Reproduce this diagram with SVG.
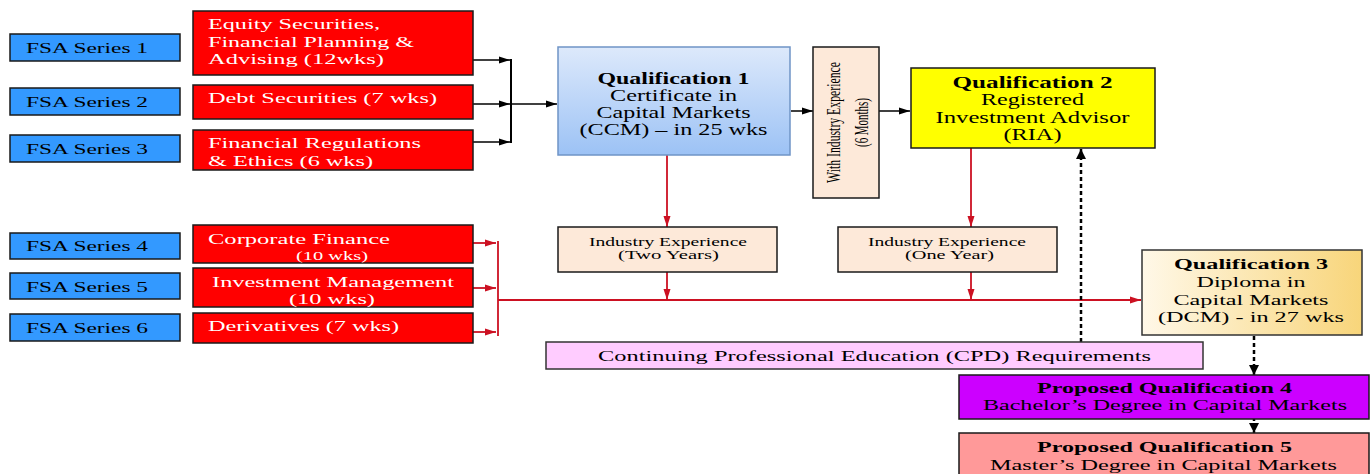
<svg xmlns="http://www.w3.org/2000/svg" width="1370" height="474" viewBox="0 0 1370 474">
<style>
text{font-family:"Liberation Serif","Times New Roman",serif;}
.fsa{fill:#3399ff;stroke:#1a1a1a;stroke-width:1.5;}
.red{fill:#ff0000;stroke:#1a1a1a;stroke-width:1.5;}
.peach{fill:#fde9d9;stroke:#1a1a1a;stroke-width:1.5;}
.tf{font-size:14px;fill:#000;}
.tr{font-size:15px;fill:#fff;}
.tq{font-size:16px;fill:#000;}
.ti{font-size:13px;fill:#000;}
.tv{font-size:19px;fill:#000;}
.b{font-weight:bold;}
.c{text-anchor:middle;}
.blk{stroke:#000;stroke-width:1.5;fill:none;}
.rl{stroke:#cc1122;stroke-width:1.8;fill:none;}
.dsh{stroke:#000;stroke-width:2.5;stroke-dasharray:4 3;fill:none;}
</style>
<defs>
<marker id="ab" markerUnits="userSpaceOnUse" markerWidth="12" markerHeight="8" refX="11" refY="4" orient="auto"><path d="M0,0.5 L11,4 L0,7.5 z" fill="#000"/></marker>
<marker id="ar" markerUnits="userSpaceOnUse" markerWidth="12" markerHeight="8" refX="11" refY="4" orient="auto"><path d="M0,0.5 L11,4 L0,7.5 z" fill="#cc1122"/></marker>
<marker id="ad" markerUnits="userSpaceOnUse" markerWidth="12" markerHeight="10" refX="10" refY="5" orient="auto"><path d="M0,0 L10,5 L0,10 z" fill="#000"/></marker>
<linearGradient id="gq1" x1="0" y1="0" x2="0" y2="1"><stop offset="0" stop-color="#dde9fb"/><stop offset="1" stop-color="#9cc2f5"/></linearGradient>
<linearGradient id="gq3" x1="0" y1="0" x2="1" y2="0"><stop offset="0" stop-color="#fff8e8"/><stop offset="1" stop-color="#f8d57a"/></linearGradient>
</defs>

<g id="connectors">
<line class="blk" x1="473" y1="60" x2="510" y2="60" marker-end="url(#ab)"/>
<line class="blk" x1="473" y1="104" x2="510" y2="104" marker-end="url(#ab)"/>
<line class="blk" x1="473" y1="142" x2="510" y2="142" marker-end="url(#ab)"/>
<line x1="511" y1="59" x2="511" y2="143" stroke="#000" stroke-width="2"/>
<line class="blk" x1="511" y1="104" x2="557" y2="104" marker-end="url(#ab)"/>
<line class="blk" x1="791" y1="111" x2="813" y2="111" marker-end="url(#ab)"/>
<line class="blk" x1="879" y1="111" x2="910" y2="111" marker-end="url(#ab)"/>

<line class="rl" x1="473" y1="243" x2="496" y2="243" marker-end="url(#ar)"/>
<line class="rl" x1="473" y1="288" x2="496" y2="288" marker-end="url(#ar)"/>
<line class="rl" x1="473" y1="332" x2="496" y2="332" marker-end="url(#ar)"/>
<line class="rl" x1="498" y1="241" x2="498" y2="336"/>
<line class="rl" x1="498" y1="300" x2="1141" y2="300" marker-end="url(#ar)"/>
<line class="rl" x1="667" y1="155" x2="667" y2="227" marker-end="url(#ar)"/>
<line class="rl" x1="971" y1="148" x2="971" y2="227" marker-end="url(#ar)"/>
<line class="rl" x1="667" y1="272" x2="667" y2="300" marker-end="url(#ar)"/>
<line class="rl" x1="971" y1="272" x2="971" y2="300" marker-end="url(#ar)"/>

<line class="dsh" x1="1081" y1="342" x2="1081" y2="149" marker-end="url(#ad)"/>
<line class="dsh" x1="1254" y1="336" x2="1254" y2="375" marker-end="url(#ad)"/>
<line class="dsh" x1="1254" y1="403" x2="1254" y2="433" marker-end="url(#ad)"/>
</g>

<g id="fsa1"><rect class="fsa" x="10" y="34" width="170" height="27"/><text class="tf" x="26" y="53" textLength="122" lengthAdjust="spacingAndGlyphs">FSA Series 1</text></g>
<g id="fsa2"><rect class="fsa" x="10" y="88" width="170" height="27"/><text class="tf" x="26" y="107" textLength="122" lengthAdjust="spacingAndGlyphs">FSA Series 2</text></g>
<g id="fsa3"><rect class="fsa" x="10" y="135" width="170" height="27"/><text class="tf" x="26" y="154" textLength="122" lengthAdjust="spacingAndGlyphs">FSA Series 3</text></g>
<g id="fsa4"><rect class="fsa" x="10" y="233" width="170" height="26"/><text class="tf" x="26" y="251" textLength="122" lengthAdjust="spacingAndGlyphs">FSA Series 4</text></g>
<g id="fsa5"><rect class="fsa" x="10" y="273" width="170" height="26"/><text class="tf" x="26" y="292" textLength="122" lengthAdjust="spacingAndGlyphs">FSA Series 5</text></g>
<g id="fsa6"><rect class="fsa" x="10" y="314" width="170" height="27"/><text class="tf" x="26" y="333" textLength="122" lengthAdjust="spacingAndGlyphs">FSA Series 6</text></g>

<g id="equity"><rect class="red" x="193" y="11" width="280" height="64"/>
<text class="tr" x="208" y="29" textLength="172" lengthAdjust="spacingAndGlyphs">Equity Securities,</text>
<text class="tr" x="208" y="47" textLength="206" lengthAdjust="spacingAndGlyphs">Financial Planning &amp;</text>
<text class="tr" x="208" y="64" textLength="176" lengthAdjust="spacingAndGlyphs">Advising (12wks)</text></g>
<g id="debt"><rect class="red" x="193" y="85" width="280" height="34"/>
<text class="tr" x="208" y="103" textLength="229" lengthAdjust="spacingAndGlyphs">Debt Securities (7 wks)</text></g>
<g id="regs"><rect class="red" x="193" y="130" width="280" height="40"/>
<text class="tr" x="208" y="148" textLength="213" lengthAdjust="spacingAndGlyphs">Financial Regulations</text>
<text class="tr" x="208" y="166" textLength="165" lengthAdjust="spacingAndGlyphs">&amp; Ethics (6 wks)</text></g>
<g id="corp"><rect class="red" x="193" y="225" width="280" height="38"/>
<text class="tr" x="208" y="244" textLength="182" lengthAdjust="spacingAndGlyphs">Corporate Finance</text>
<text class="tr c" x="332" y="260" style="font-size:13px" textLength="72" lengthAdjust="spacingAndGlyphs">(10 wks)</text></g>
<g id="invest"><rect class="red" x="193" y="268" width="280" height="39"/>
<text class="tr c" x="333" y="287" textLength="242" lengthAdjust="spacingAndGlyphs">Investment Management</text>
<text class="tr c" x="332" y="304" textLength="86" lengthAdjust="spacingAndGlyphs">(10 wks)</text></g>
<g id="deriv"><rect class="red" x="193" y="313" width="280" height="30"/>
<text class="tr" x="208" y="331" textLength="191" lengthAdjust="spacingAndGlyphs">Derivatives (7 wks)</text></g>

<g id="q1"><rect x="558" y="47" width="232" height="108" fill="url(#gq1)" stroke="#6f94c6" stroke-width="1.5"/>
<text class="tq b c" x="673.5" y="83.5" textLength="152" lengthAdjust="spacingAndGlyphs">Qualification 1</text>
<text class="tq c" x="673.5" y="100.5" textLength="127" lengthAdjust="spacingAndGlyphs">Certificate in</text>
<text class="tq c" x="673.5" y="117.5" textLength="154" lengthAdjust="spacingAndGlyphs">Capital Markets</text>
<text class="tq c" x="673.5" y="134.5" textLength="188" lengthAdjust="spacingAndGlyphs">(CCM) – in 25 wks</text></g>

<g id="withexp"><rect class="peach" x="813" y="47" width="66" height="151"/>
<text class="tv c" x="0" y="0" transform="translate(840,122.5) rotate(-90)" textLength="121" lengthAdjust="spacingAndGlyphs">With Industry Experience</text>
<text class="tv c" x="0" y="0" transform="translate(868,122.5) rotate(-90)" textLength="49" lengthAdjust="spacingAndGlyphs">(6 Months)</text></g>

<g id="q2"><rect x="911" y="68" width="244" height="80" fill="#ffff00" stroke="#1a1a1a" stroke-width="1.5"/>
<text class="tq b c" x="1032.5" y="87.5" textLength="160" lengthAdjust="spacingAndGlyphs">Qualification  2</text>
<text class="tq c" x="1032.5" y="104.5" textLength="103" lengthAdjust="spacingAndGlyphs">Registered</text>
<text class="tq c" x="1032.5" y="122.5" textLength="194" lengthAdjust="spacingAndGlyphs">Investment Advisor</text>
<text class="tq c" x="1032.5" y="139.5" textLength="58" lengthAdjust="spacingAndGlyphs">(RIA)</text></g>

<g id="ind2y"><rect class="peach" x="558" y="227" width="219" height="45"/>
<text class="ti c" x="668" y="245.5" textLength="158" lengthAdjust="spacingAndGlyphs">Industry Experience</text>
<text class="ti c" x="668.5" y="258.5" textLength="101" lengthAdjust="spacingAndGlyphs">(Two Years)</text></g>
<g id="ind1y"><rect class="peach" x="838" y="227" width="219" height="45"/>
<text class="ti c" x="947" y="245.5" textLength="158" lengthAdjust="spacingAndGlyphs">Industry Experience</text>
<text class="ti c" x="949.5" y="258.5" textLength="89" lengthAdjust="spacingAndGlyphs">(One Year)</text></g>

<g id="q3"><rect x="1142" y="250" width="220" height="85" fill="url(#gq3)" stroke="#333" stroke-width="1.5"/>
<text class="tq b c" x="1251" y="268.5" style="font-size:15px" textLength="154" lengthAdjust="spacingAndGlyphs">Qualification 3</text>
<text class="tq c" x="1251" y="286.5" style="font-size:15px" textLength="109" lengthAdjust="spacingAndGlyphs">Diploma in</text>
<text class="tq c" x="1251" y="304.5" style="font-size:15px" textLength="155" lengthAdjust="spacingAndGlyphs">Capital Markets</text>
<text class="tq c" x="1251" y="321.5" style="font-size:15px" textLength="186" lengthAdjust="spacingAndGlyphs">(DCM) - in 27 wks</text></g>

<g id="cpd"><rect x="546" y="342" width="657" height="27" fill="#ffccff" stroke="#333" stroke-width="1.5"/>
<text class="tq c" x="874.5" y="361" style="font-size:15px" textLength="553" lengthAdjust="spacingAndGlyphs">Continuing Professional Education (CPD) Requirements</text></g>

<g id="q4"><rect x="959" y="375" width="410" height="44" fill="#cc00ff" stroke="#1a1a1a" stroke-width="1.5"/>
<text class="tq b c" x="1164.5" y="393" style="font-size:15px" textLength="255" lengthAdjust="spacingAndGlyphs">Proposed Qualification 4</text>
<text class="tq c" x="1165" y="410" style="font-size:15px" textLength="364" lengthAdjust="spacingAndGlyphs">Bachelor’s Degree in Capital Markets</text></g>

<g id="q5"><rect x="959" y="433" width="410" height="50" fill="#ff9999" stroke="#1a1a1a" stroke-width="1.5"/>
<text class="tq b c" x="1164.5" y="452" style="font-size:15px" textLength="255" lengthAdjust="spacingAndGlyphs">Proposed Qualification 5</text>
<text class="tq c" x="1163.5" y="470" style="font-size:15px" textLength="347" lengthAdjust="spacingAndGlyphs">Master’s Degree in Capital Markets</text></g>
</svg>
